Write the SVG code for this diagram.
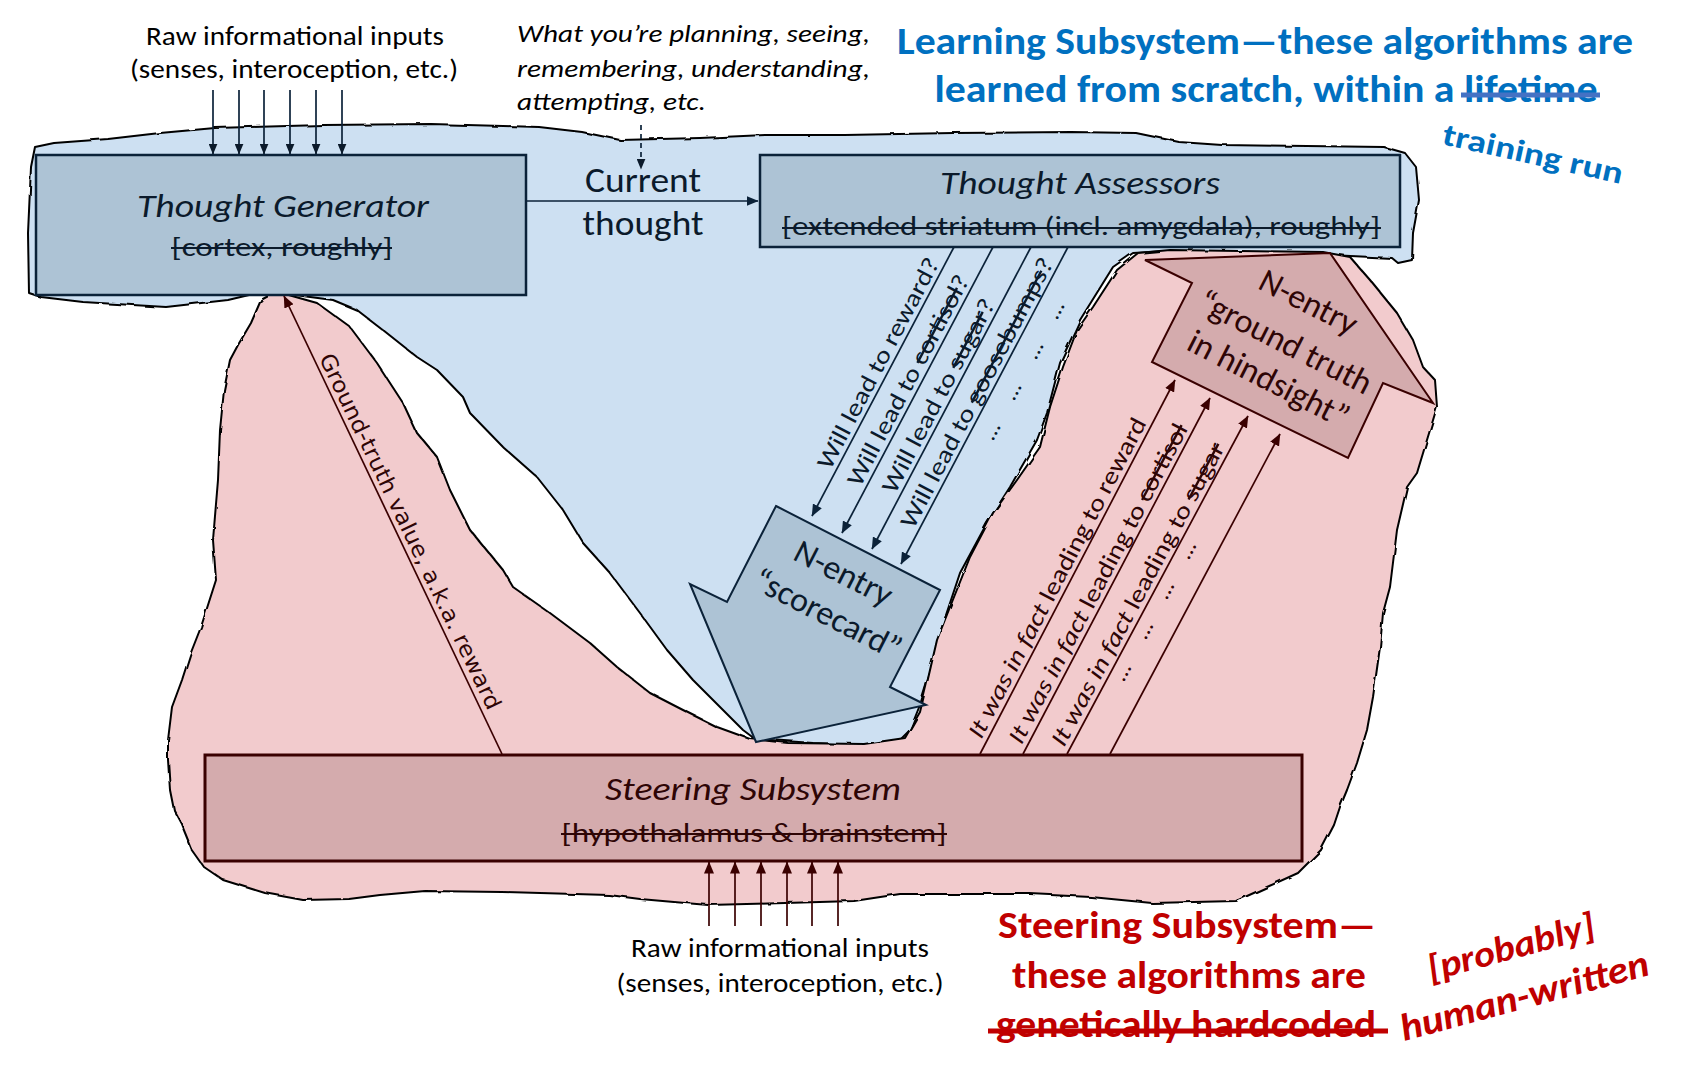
<svg xmlns="http://www.w3.org/2000/svg" width="1690" height="1086" viewBox="0 0 1690 1086">
<defs>
<style>
.f{font-family:Carlito,Lato,"Open Sans","Liberation Sans",sans-serif}
.dv{font-family:"DejaVu Sans",Verdana,sans-serif}
.k{fill:#000}
.nv{fill:#0B1A2B}
.mr{fill:#2E0505}
.region{stroke:#000;stroke-width:2;stroke-linejoin:round}
.lnN{stroke:#0B2239;stroke-width:1.7;fill:none}
.lnM{stroke:#3A0000;stroke-width:1.7;fill:none}
.st{text-decoration:line-through}
</style>
<filter id="rough" x="-5%" y="-5%" width="110%" height="110%">
<feTurbulence type="fractalNoise" baseFrequency="0.06" numOctaves="2" seed="3"/>
<feDisplacementMap in="SourceGraphic" scale="3"/>
</filter>
<marker id="ahN" viewBox="0 0 12 10" refX="11.5" refY="5" markerWidth="12" markerHeight="10" markerUnits="userSpaceOnUse" orient="auto"><path d="M0,0 L12,5 L0,10 Z" fill="#0B2239"/></marker>
<marker id="ahM" viewBox="0 0 12 10" refX="11.5" refY="5" markerWidth="12" markerHeight="10" markerUnits="userSpaceOnUse" orient="auto"><path d="M0,0 L12,5 L0,10 Z" fill="#3A0000"/></marker>
<marker id="ahK" viewBox="0 0 12 10" refX="11.5" refY="5" markerWidth="11" markerHeight="9" markerUnits="userSpaceOnUse" orient="auto"><path d="M0,0 L12,5 L0,10 Z" fill="#0B1A2B"/></marker>
</defs>
<rect width="1690" height="1086" fill="#fff"/>

<g id="learning-region">
<path class="region" filter="url(#rough)" fill="#CDE0F2" d="M35,147 L54,143 L108,139 L160,133 L215,128 L323,125 L431,124 L539,127 L582,132 L620,140 L700,138 L765,135 L845,135 L953,133 L1071,132 L1136,133 L1179,142 L1222,145 L1384,147 L1405,153 L1416,167 L1419,200 L1413,233 L1412,260 L1398,263 L1392,258 L1330,255 L1250,254 L1168,251 L1133,253 L1113,267 L1080,320 L1060,363 L1047,413 L1037,440 L1010,487 L987,523 L960,573 L940,633 L930,673 L920,705 L910,730 L900,740 L860,745 L813,743 L755,739 L743,730 L723,710 L693,680 L667,650 L640,613 L610,573 L583,543 L563,510 L537,477 L503,447 L470,413 L463,397 L437,370 L417,357 L383,330 L357,310 L333,300 L295,295 L282,294 L249,295 L228,300 L166,307 L83,302 L41,297 L29,293 L28,233 L31,167 Z"/>
</g>
<g id="steering-region">
<path class="region" filter="url(#rough)" fill="#F2CBCD" d="M272,294 L261,300 L251,323 L238,345 L230,360 L224,390 L220,430 L218,480 L213,540 L216,580 L208,605 L201,627 L190,655 L182,680 L172,707 L168,740 L168,760 L170,790 L174,810 L181,823 L192,850 L204,867 L223,880 L265,893 L303,900 L349,899 L380,895 L425,891 L502,892 L609,895 L640,899 L708,905 L785,903 L854,901 L900,894 L1030,894 L1091,897 L1152,903 L1236,901 L1267,887 L1298,873 L1321,850 L1334,825 L1340,807 L1347,790 L1357,763 L1367,730 L1373,697 L1380,647 L1383,613 L1390,587 L1397,530 L1407,487 L1417,473 L1430,430 L1437,407 L1435,380 L1423,367 L1413,340 L1397,313 L1370,280 L1350,257 L1323,252 L1240,251 L1170,250 L1138,253 L1117,270 L1093,307 L1077,330 L1063,367 L1050,407 L1040,447 L1017,480 L993,513 L970,557 L950,607 L937,640 L927,683 L920,712 L905,738 L864,744 L788,743 L750,739 L717,727 L683,710 L650,693 L617,667 L590,643 L550,613 L513,587 L503,570 L470,530 L450,490 L437,457 L417,433 L403,403 L377,363 L350,327 L317,303 L285,294 Z"/>
</g>

<g id="thought-generator">
<rect x="36" y="155" width="490" height="140" fill="#ADC3D5" stroke="#0B2239" stroke-width="2.5"/>
<text class="f nv" x="283" y="217" font-size="32" font-style="italic" text-anchor="middle" textLength="292" lengthAdjust="spacingAndGlyphs">Thought Generator</text>
<text class="f nv" x="282" y="256" font-size="26" text-anchor="middle" textLength="221" lengthAdjust="spacingAndGlyphs">[cortex, roughly]</text>
<line x1="171" y1="248" x2="392" y2="248" stroke="#0B1A2B" stroke-width="1.8"/>
</g>

<g id="thought-assessors">
<rect x="760" y="155" width="640" height="92" fill="#ADC3D5" stroke="#0B2239" stroke-width="2.5"/>
<text class="f nv" x="1080" y="194" font-size="32" font-style="italic" text-anchor="middle" textLength="280" lengthAdjust="spacingAndGlyphs">Thought Assessors</text>
<text class="f nv" x="1081" y="235" font-size="26" text-anchor="middle" textLength="598" lengthAdjust="spacingAndGlyphs">[extended striatum (incl. amygdala), roughly]</text>
<line x1="782" y1="228" x2="1381" y2="228" stroke="#0B1A2B" stroke-width="1.8"/>
</g>

<g id="steering-subsystem">
<rect x="205" y="755" width="1097" height="106" fill="#D4ABAD" stroke="#3A0000" stroke-width="3"/>
<text class="f mr" x="753" y="800" font-size="32" font-style="italic" text-anchor="middle" textLength="296" lengthAdjust="spacingAndGlyphs">Steering Subsystem</text>
<text class="f mr" x="754" y="842" font-size="26" text-anchor="middle" textLength="385" lengthAdjust="spacingAndGlyphs">[hypothalamus &amp; brainstem]</text>
<line x1="561" y1="834" x2="947" y2="834" stroke="#2E0505" stroke-width="1.8"/>
</g>

<g id="scorecard">
<polygon points="776,506 940,590 890,687 926,705 756,742 690,584 727,602" fill="#ADC3D5" stroke="#0B2239" stroke-width="2"/>
<text class="f nv" font-size="34" text-anchor="middle" transform="translate(838.5,583) rotate(27)">N-entry</text>
<text class="f nv" font-size="34" text-anchor="middle" transform="translate(822.5,624) rotate(27)">“scorecard”</text>
</g>

<g id="ground-truth-hindsight">
<polygon points="1145,260 1192,283 1152,362 1348,458 1383,383 1433,403 1330,253" fill="#D4ABAD" stroke="#3A0000" stroke-width="2"/>
<text class="f mr" font-size="34" text-anchor="middle" transform="translate(1303.5,312) rotate(27)">N-entry</text>
<text class="f mr" font-size="34" text-anchor="middle" transform="translate(1280.5,352) rotate(27)">“ground truth</text>
<text class="f mr" font-size="34" text-anchor="middle" transform="translate(1263.5,389) rotate(27)">in hindsight”</text>
</g>

<g id="connectors">
<line class="lnN" x1="213" y1="90" x2="213" y2="154" marker-end="url(#ahK)"/>
<line class="lnN" x1="239" y1="90" x2="239" y2="154" marker-end="url(#ahK)"/>
<line class="lnN" x1="264" y1="90" x2="264" y2="154" marker-end="url(#ahK)"/>
<line class="lnN" x1="290" y1="90" x2="290" y2="154" marker-end="url(#ahK)"/>
<line class="lnN" x1="316" y1="90" x2="316" y2="154" marker-end="url(#ahK)"/>
<line class="lnN" x1="342" y1="90" x2="342" y2="154" marker-end="url(#ahK)"/>
<line class="lnN" x1="526" y1="201" x2="758" y2="201" stroke-width="2.2" marker-end="url(#ahN)"/>
<line class="lnN" x1="641" y1="125" x2="641" y2="169" stroke-dasharray="5,4" marker-end="url(#ahK)"/>
<line class="lnN" x1="954" y1="247" x2="812" y2="516" marker-end="url(#ahN)"/>
<line class="lnN" x1="993" y1="247" x2="842" y2="533" marker-end="url(#ahN)"/>
<line class="lnN" x1="1031" y1="247" x2="872" y2="549" marker-end="url(#ahN)"/>
<line class="lnN" x1="1068" y1="247" x2="901" y2="564" marker-end="url(#ahN)"/>
<line class="lnM" x1="502" y1="754" x2="284" y2="296" marker-end="url(#ahM)"/>
<line class="lnM" x1="980" y1="754" x2="1175" y2="380" marker-end="url(#ahM)"/>
<line class="lnM" x1="1023" y1="754" x2="1210" y2="398" marker-end="url(#ahM)"/>
<line class="lnM" x1="1067" y1="754" x2="1248" y2="416" marker-end="url(#ahM)"/>
<line class="lnM" x1="1110" y1="754" x2="1280" y2="434" marker-end="url(#ahM)"/>
<line class="lnM" x1="709" y1="926" x2="709" y2="862" marker-end="url(#ahM)"/>
<line class="lnM" x1="735" y1="926" x2="735" y2="862" marker-end="url(#ahM)"/>
<line class="lnM" x1="761" y1="926" x2="761" y2="862" marker-end="url(#ahM)"/>
<line class="lnM" x1="787" y1="926" x2="787" y2="862" marker-end="url(#ahM)"/>
<line class="lnM" x1="812" y1="926" x2="812" y2="862" marker-end="url(#ahM)"/>
<line class="lnM" x1="838" y1="926" x2="838" y2="862" marker-end="url(#ahM)"/>
</g>

<g id="labels">
<text class="f k" x="295" y="45" font-size="26" text-anchor="middle" textLength="298" lengthAdjust="spacingAndGlyphs">Raw informational inputs</text>
<text class="f k" x="294" y="78" font-size="26" text-anchor="middle" textLength="328" lengthAdjust="spacingAndGlyphs">(senses, interoception, etc.)</text>
<text class="f k" x="517" y="42" font-size="25" font-style="italic" textLength="353" lengthAdjust="spacingAndGlyphs">What you’re planning, seeing,</text>
<text class="f k" x="517" y="77" font-size="25" font-style="italic" textLength="353" lengthAdjust="spacingAndGlyphs">remembering, understanding,</text>
<text class="f k" x="517" y="110" font-size="25" font-style="italic" textLength="189" lengthAdjust="spacingAndGlyphs">attempting, etc.</text>
<text class="f nv" x="643" y="192" font-size="34" text-anchor="middle" textLength="116" lengthAdjust="spacingAndGlyphs">Current</text>
<text class="f nv" x="643" y="235" font-size="34" text-anchor="middle" textLength="121" lengthAdjust="spacingAndGlyphs">thought</text>

<text class="f" fill="#0070C0" font-weight="bold" x="1265" y="54" font-size="38" text-anchor="middle" textLength="736" lengthAdjust="spacingAndGlyphs">Learning Subsystem—these algorithms are</text>
<text class="f" fill="#0070C0" font-weight="bold" x="1266" y="102" font-size="38" text-anchor="middle" textLength="663" lengthAdjust="spacingAndGlyphs">learned from scratch, within a lifetime</text>
<line x1="1461" y1="95" x2="1600" y2="95" stroke="#4472C4" stroke-width="5"/>
<text class="f" fill="#0070C0" font-weight="bold" font-size="31" transform="translate(1441,144) rotate(12.5)" textLength="184" lengthAdjust="spacingAndGlyphs">training run</text>

<text class="f nv" font-size="24" transform="translate(830.3,470.7) rotate(-62.2)" textLength="235" lengthAdjust="spacingAndGlyphs">Will lead to reward?</text>
<text class="f nv" font-size="24" transform="translate(860.3,487.7) rotate(-62.2)" textLength="235" lengthAdjust="spacingAndGlyphs">Will lead to <tspan class="st">cortisol</tspan>?</text>
<text class="f nv" font-size="24" transform="translate(895,494.7) rotate(-62.2)" textLength="216" lengthAdjust="spacingAndGlyphs">Will lead to <tspan class="st">sugar</tspan>?</text>
<text class="f nv" font-size="24" transform="translate(913.5,529.7) rotate(-62.2)" textLength="302" lengthAdjust="spacingAndGlyphs">Will lead to <tspan class="st">goosebumps</tspan>?</text>
<text class="f nv" font-size="24" text-anchor="middle" transform="translate(1061,313) rotate(-62.2)">…</text>
<text class="f nv" font-size="24" text-anchor="middle" transform="translate(1040,353) rotate(-62.2)">…</text>
<text class="f nv" font-size="24" text-anchor="middle" transform="translate(1018,394) rotate(-62.2)">…</text>
<text class="f nv" font-size="24" text-anchor="middle" transform="translate(997,434) rotate(-62.2)">…</text>

<text class="dv mr" font-size="22" transform="translate(318.7,357.9) rotate(64.4)" textLength="392" lengthAdjust="spacingAndGlyphs">Ground-truth value, a.k.a. reward</text>

<text class="f mr" font-size="24" transform="translate(981.2,740.1) rotate(-62.4)" textLength="358" lengthAdjust="spacingAndGlyphs"><tspan font-style="italic">It was in fact</tspan> leading to reward</text>
<text class="f mr" font-size="24" transform="translate(1021.4,745.4) rotate(-62.2)" textLength="358" lengthAdjust="spacingAndGlyphs"><tspan font-style="italic">It was in fact</tspan> leading to <tspan class="st">cortisol</tspan></text>
<text class="f mr" font-size="24" transform="translate(1064,748) rotate(-61.8)" textLength="341" lengthAdjust="spacingAndGlyphs"><tspan font-style="italic">It was in fact</tspan> leading to <tspan class="st">sugar</tspan></text>
<text class="f mr" font-size="24" text-anchor="middle" transform="translate(1128,675) rotate(-62)">…</text>
<text class="f mr" font-size="24" text-anchor="middle" transform="translate(1150,633) rotate(-62)">…</text>
<text class="f mr" font-size="24" text-anchor="middle" transform="translate(1171,593) rotate(-62)">…</text>
<text class="f mr" font-size="24" text-anchor="middle" transform="translate(1193,553) rotate(-62)">…</text>

<text class="f k" x="780" y="957" font-size="26" text-anchor="middle" textLength="298" lengthAdjust="spacingAndGlyphs">Raw informational inputs</text>
<text class="f k" x="780" y="992" font-size="26" text-anchor="middle" textLength="327" lengthAdjust="spacingAndGlyphs">(senses, interoception, etc.)</text>

<text class="f" fill="#C00000" font-weight="bold" x="1187" y="938" font-size="38" text-anchor="middle" textLength="378" lengthAdjust="spacingAndGlyphs">Steering Subsystem—</text>
<text class="f" fill="#C00000" font-weight="bold" x="1189" y="988" font-size="38" text-anchor="middle" textLength="354" lengthAdjust="spacingAndGlyphs">these algorithms are</text>
<text class="f" fill="#C00000" font-weight="bold" x="1186" y="1037" font-size="38" text-anchor="middle" textLength="380" lengthAdjust="spacingAndGlyphs">genetically hardcoded</text>
<line x1="988" y1="1031" x2="1388" y2="1031" stroke="#C00000" stroke-width="5"/>
<text class="f" fill="#C00000" font-style="italic" font-weight="600" font-size="37" transform="translate(1431,981) rotate(-15)" textLength="172" lengthAdjust="spacingAndGlyphs">[probably]</text>
<text class="f" fill="#C00000" font-style="italic" font-weight="600" font-size="38" transform="translate(1404,1041) rotate(-15)" textLength="256" lengthAdjust="spacingAndGlyphs">human-written</text>
</g>
</svg>
